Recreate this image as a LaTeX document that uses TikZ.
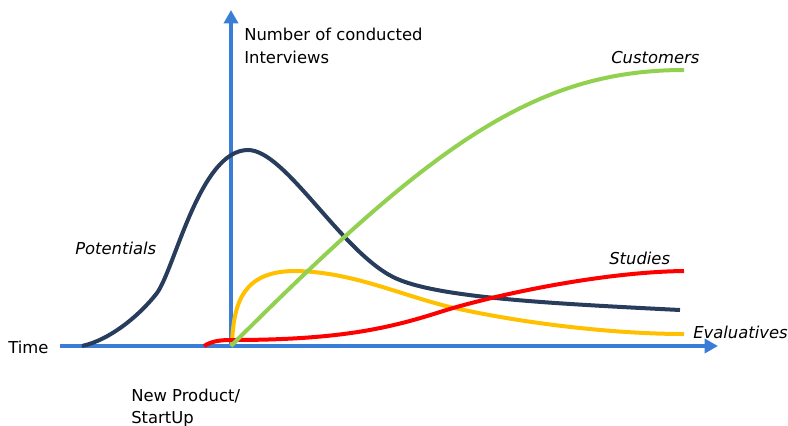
\documentclass[tikz,border=0pt]{standalone}
\usepackage{fontspec}
\setmainfont{DejaVu Sans}
\usetikzlibrary{arrows.meta,positioning}

\definecolor{axisblue}{RGB}{58,125,214}
\definecolor{navy}{RGB}{40,60,92}
\definecolor{grass}{RGB}{146,208,80}
\definecolor{amber}{RGB}{255,192,0}

\begin{document}
\begin{tikzpicture}[x=0.75pt,y=-0.75pt,
    axis/.style={line width=3.4pt,draw=axisblue,-{Triangle[length=10pt,width=10.5pt]}},
    curve/.style={line width=3pt},
    lbl/.style={inner sep=0pt,anchor=base west,font=\fontsize{12.3}{17}\selectfont},
    ilbl/.style={lbl,font=\fontsize{12.3}{17}\selectfont\itshape}]
	   \useasboundingbox (0,0) rectangle (788,425);
	   % axes
	   \coordinate (origin) at (231,346);
	   \coordinate (tstart) at (60,346);
	   \coordinate (tend)   at (718,346);
	   \coordinate (ytop)   at (231,10);
	   \draw[axis] (tstart) -- (tend);
	   \draw[axis] (origin) -- (ytop);
	   % curves
	   \draw[curve,navy] (82,346) .. controls (110,340) and (140,315) .. (157,293)
	          .. controls (175,268) and (200,150) .. (248,150)
	          .. controls (285,150) and (340,250) .. (393,277)
	          .. controls (433,297) and (540,303) .. (680,310);
	   \draw[curve,amber] (232,346) .. controls (233,300) and (245,272) .. (293,271)
	          .. controls (350,271) and (400,295) .. (450,307)
	          .. controls (530,325) and (620,334) .. (684,334);
	   \draw[curve,red] (204,346) .. controls (212,341) and (220,340) .. (232,340)
	          .. controls (340,340) and (390,328) .. (440,312)
	          .. controls (490,296) and (600,272) .. (684,271);
	   \draw[curve,grass] (origin) .. controls (431,146) and (534,70) .. (684,70);
	   % labels
	   \node[lbl] (time) at (8,353) {Time};
	   \node[lbl] (number) at (244,40) {Number of conducted};
	   \node[lbl] (interviews) at (244,63) {Interviews};
	   \node[lbl] (product) at (131,401) {New Product/};
	   \node[lbl] (startup) at (131,423) {StartUp};
	   \node[ilbl] (potentials) at (75,254) {Potentials};
	   \node[ilbl] (customers) at (611,63) {Customers};
	   \node[ilbl] (studies) at (609,264) {Studies};
	   \node[ilbl] (evaluatives) at (693,338) {Evaluatives};
\end{tikzpicture}
\end{document}
